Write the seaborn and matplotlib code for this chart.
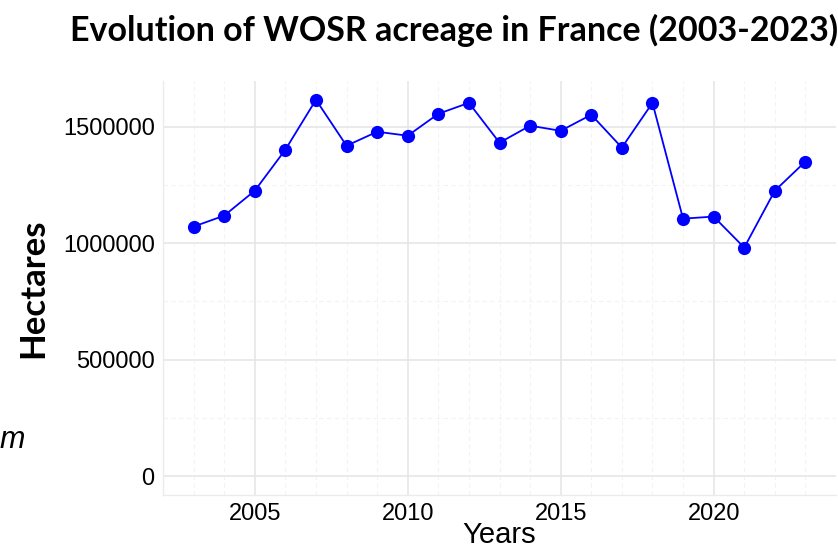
import pandas as pd
import matplotlib.pyplot as plt
import matplotlib.ticker as ticker
import seaborn as sns

# data
years = list(range(2003, 2024))
hectares = [1071000, 1118000, 1225000, 1401000, 1615000, 1418000, 1478000,
            1461000, 1555000, 1602000, 1431000, 1504000, 1482000, 1551000,
            1410000, 1602000, 1105000, 1114000, 981000, 1225000, 1350000]

df = pd.DataFrame({"Years": years, "Hectares": hectares})

sns.set_style("white")
plt.rcParams["font.family"] = ["Liberation Sans", "DejaVu Sans"]
plt.rcParams["text.color"] = "black"
plt.rcParams["axes.labelcolor"] = "black"

fig = plt.figure(figsize=(8.38, 5.49), dpi=100)
ax = fig.add_axes([163 / 838, 1 - 495 / 549, (836 - 163) / 838, (495 - 81) / 549])

sns.lineplot(data=df, x="Years", y="Hectares", color="#0000ff", linewidth=1.3,
             marker="o", markersize=9.5, markeredgewidth=0, ax=ax)

ax.set_xlim(2002, 2024)
ax.set_ylim(-80750, 1695750)
ax.set_xticks([2005, 2010, 2015, 2020])
ax.set_yticks([0, 500000, 1000000, 1500000])
ax.xaxis.set_minor_locator(ticker.MultipleLocator(1))
ax.yaxis.set_minor_locator(ticker.MultipleLocator(250000))
ax.yaxis.set_major_formatter(ticker.FuncFormatter(lambda v, _: f"{int(v)}"))

ax.grid(True, which="major", color="#e6e6e6", linewidth=1.2)
ax.grid(True, which="minor", color="#f3f3f3", linewidth=0.8, linestyle=(0, (4, 3)))
ax.set_axisbelow(True)

for s in ["top", "right"]:
    ax.spines[s].set_visible(False)
for s in ["left", "bottom"]:
    ax.spines[s].set_color("#ebebeb")
    ax.spines[s].set_linewidth(1.0)

ax.tick_params(axis="y", which="major", length=4, width=1, color="#444444",
               labelsize=17, pad=2, labelcolor="black")
ax.tick_params(axis="x", which="major", length=0, labelsize=17, pad=6, labelcolor="black")
ax.tick_params(which="minor", length=0)

ax.set_xlabel("Years", fontsize=21, labelpad=-3)
ax.set_ylabel("Hectares", fontsize=25, fontweight="bold", family="Lato",
              labelpad=10, color="black")

fig.text(0.542, 0.945, "Evolution of WOSR acreage in France (2003-2023)",
         ha="center", va="center", fontsize=24.5, fontweight="bold",
         family="Lato", color="black")
fig.text(0.0, 0.198, "m", ha="left", va="center", fontsize=22, style="italic")

plt.savefig("out.png", dpi=100)
